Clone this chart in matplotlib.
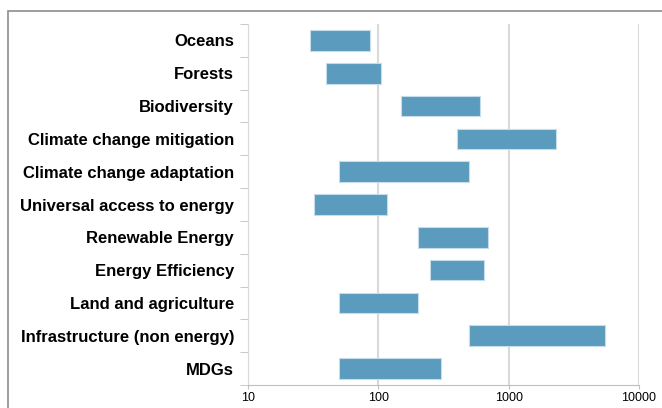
import numpy as np
import matplotlib.pyplot as plt
from matplotlib.patches import Rectangle

plt.rcParams['font.family'] = ['Liberation Sans', 'DejaVu Sans']

# Investment ranges by area (low, high)
areas = ["Oceans", "Forests", "Biodiversity", "Climate change mitigation",
         "Climate change adaptation", "Universal access to energy",
         "Renewable Energy", "Energy Efficiency", "Land and agriculture",
         "Infrastructure (non energy)", "MDGs"]
low = [30, 40, 150, 400, 50, 32, 200, 250, 50, 500, 50]
high = [86, 104, 600, 2300, 500, 116, 700, 650, 200, 5500, 300]
xticks = [10, 100, 1000, 10000]

fig = plt.figure(figsize=(6.62, 4.08), dpi=100)
ax = fig.add_axes([248 / 662, 1 - 385 / 408, 391 / 662, 361 / 408])

# outer chart frame (cut off at right and bottom)
fig.patches.append(Rectangle((7.5 / 662, -0.1), 1.2, 1 - 10.5 / 408 + 0.1,
                             transform=fig.transFigure, fill=False,
                             edgecolor="#8c8c8c", linewidth=1.2))

ypos = np.arange(len(areas))[::-1]
widths = np.array(high) - np.array(low)
ax.barh(ypos, widths, left=low, height=0.63, color="#5b9bbd",
        edgecolor="#c6dcea", linewidth=0.8, zorder=3)

ax.set_xscale("log")
ax.set_xlim(10, 10000)
ax.set_ylim(-0.5, len(areas) - 0.5)
ax.set_xticks(xticks)
ax.set_xticklabels([str(t) for t in xticks])
ax.xaxis.set_minor_locator(plt.NullLocator())
ax.grid(axis="x", color="#d9d9d9", linewidth=1.5, zorder=0)

ax.set_yticks(ypos)
ax.set_yticklabels(areas, fontsize=12, fontweight="bold")
ax.set_yticks(np.arange(-0.5, len(areas)), minor=True)
ax.tick_params(axis="y", which="major", length=0, pad=10)
ax.tick_params(axis="y", which="minor", length=6, color="#bfbfbf")
ax.tick_params(axis="x", length=3, color="#bfbfbf", labelsize=9, pad=2)

for side in ["top", "right"]:
    ax.spines[side].set_visible(False)
ax.spines["left"].set_color("#d9d9d9")
ax.spines["bottom"].set_color("#bfbfbf")

fig.savefig("out.png", dpi=100)
